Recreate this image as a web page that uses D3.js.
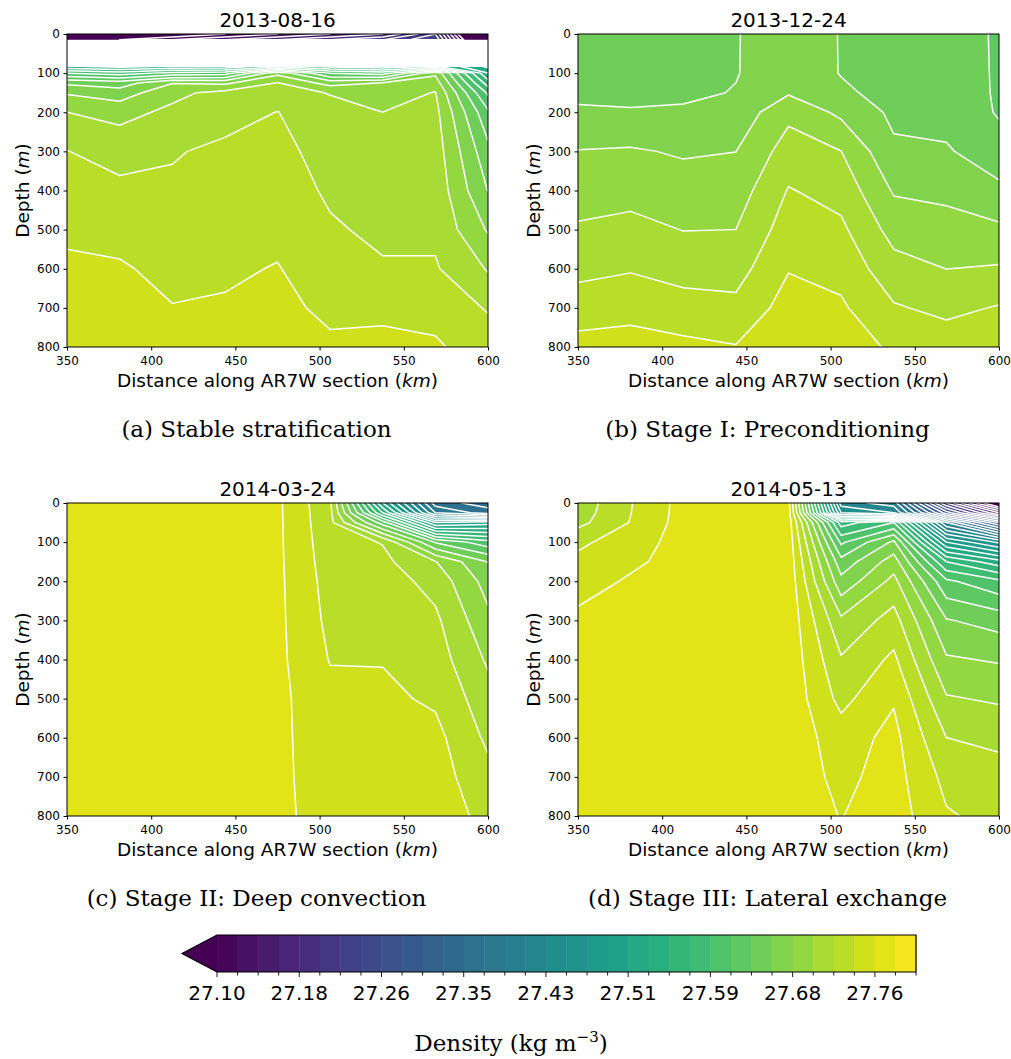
<!DOCTYPE html>
<html>
<head>
<meta charset="utf-8">
<script src="https://cdn.jsdelivr.net/npm/d3@7"></script>
<style>
  body { margin: 0; background: #fff; }
  text { font-family: "DejaVu Sans", sans-serif; fill: #000; }
  .serif { font-family: "DejaVu Serif", serif; }
</style>
</head>
<body>
<svg id="fig"></svg>
<script>
// sections along AR7W, density in kg m-3 (rows = depth, columns = station)
var stations = [350, 381.25, 412.5, 443.75, 475, 506.25, 537.5, 568.75, 600];
var distTicks = [350, 400, 450, 500, 550, 600];
var depthTicks = [0, 100, 200, 300, 400, 500, 600, 700, 800];
var dates = ["2013-08-16", "2013-12-24", "2014-03-24", "2014-05-13"];
var captions = ["(a) Stable stratification", "(b) Stage I: Preconditioning",
                "(c) Stage II: Deep convection", "(d) Stage III: Lateral exchange"];
var cbarTickLabels = ["27.10", "27.18", "27.26", "27.35", "27.43", "27.51", "27.59", "27.68", "27.76"];
var levelMin = 27.1, levelMax = 27.8, nLevels = 35;

var depthsA = [0, 15, 30, 70, 82, 100, 125, 150, 200, 300, 400, 500, 600, 700, 800];
var densityA = [
  [27.0382, 27.0588, 27.0794, 27.1000, 27.1206, 27.1412, 27.1618, 27.2235, 26.9353],
  [27.0794, 27.1000, 27.1206, 27.1412, 27.1618, 27.1824, 27.2029, 27.2441, 26.9765],
  [null, null, null, null, null, null, null, null, null],
  [null, null, null, null, null, null, null, null, null],
  [27.5324, 27.5221, 27.5324, 27.5324, 27.5632, 27.5426, 27.5324, 27.5529, 27.5056],
  [27.5941, 27.5838, 27.6003, 27.6044, 27.6703, 27.6147, 27.6044, 27.6724, 27.5324],
  [27.6518, 27.6456, 27.6754, 27.6724, 27.6981, 27.6682, 27.6775, 27.6868, 27.5632],
  [27.6744, 27.6651, 27.6919, 27.7032, 27.7053, 27.6960, 27.6868, 27.6981, 27.5900],
  [27.6971, 27.6909, 27.7012, 27.7084, 27.7181, 27.7043, 27.6971, 27.7032, 27.6188],
  [27.7181, 27.7094, 27.7156, 27.7228, 27.7238, 27.7094, 27.7053, 27.7074, 27.6415],
  [27.7228, 27.7228, 27.7218, 27.7259, 27.7279, 27.7146, 27.7094, 27.7104, 27.6553],
  [27.7341, 27.7321, 27.7269, 27.7290, 27.7331, 27.7201, 27.7135, 27.7135, 27.6744],
  [27.7424, 27.7403, 27.7331, 27.7351, 27.7393, 27.7259, 27.7197, 27.7197, 27.6954],
  [27.7506, 27.7475, 27.7389, 27.7403, 27.7444, 27.7331, 27.7331, 27.7331, 27.7156],
  [27.7568, 27.7547, 27.7444, 27.7465, 27.7506, 27.7424, 27.7444, 27.7403, 27.7300]
];

var depthsB = [0, 100, 150, 200, 300, 400, 500, 600, 700, 800];
var densityB = [
  [27.6456, 27.6456, 27.6466, 27.6549, 27.6662, 27.6551, 27.6476, 27.6435, 27.6332],
  [27.6476, 27.6476, 27.6487, 27.6549, 27.6682, 27.6551, 27.6487, 27.6446, 27.6332],
  [27.6518, 27.6507, 27.6518, 27.6569, 27.6744, 27.6590, 27.6497, 27.6456, 27.6332],
  [27.6586, 27.6575, 27.6588, 27.6633, 27.6919, 27.6719, 27.6518, 27.6476, 27.6337],
  [27.6773, 27.6787, 27.6742, 27.6763, 27.7063, 27.6973, 27.6592, 27.6584, 27.6423],
  [27.6882, 27.6905, 27.6857, 27.6868, 27.7189, 27.7102, 27.6744, 27.6715, 27.6610],
  [27.6995, 27.7028, 27.6966, 27.6971, 27.7279, 27.7218, 27.6894, 27.6843, 27.6802],
  [27.7121, 27.7160, 27.7102, 27.7094, 27.7372, 27.7316, 27.7047, 27.6969, 27.6991],
  [27.7279, 27.7316, 27.7255, 27.7230, 27.7465, 27.7413, 27.7197, 27.7127, 27.7191],
  [27.7454, 27.7465, 27.7434, 27.7393, 27.7547, 27.7485, 27.7351, 27.7286, 27.7362]
];

var depthsC = [0, 25, 50, 100, 150, 200, 300, 400, 500, 600, 700, 800];
var densityC = [
  [27.7691, 27.7691, 27.7691, 27.7691, 27.7627, 27.7218, 27.5118, 27.3574, 27.3368],
  [27.7691, 27.7691, 27.7691, 27.7691, 27.7627, 27.7228, 27.5529, 27.3882, 27.3574],
  [27.7691, 27.7691, 27.7691, 27.7691, 27.7629, 27.7238, 27.6250, 27.4912, 27.5015],
  [27.7691, 27.7691, 27.7691, 27.7691, 27.7629, 27.7259, 27.7166, 27.6332, 27.6024],
  [27.7691, 27.7691, 27.7691, 27.7691, 27.7631, 27.7279, 27.7228, 27.6981, 27.6549],
  [27.7691, 27.7691, 27.7691, 27.7691, 27.7633, 27.7300, 27.7279, 27.7104, 27.6682],
  [27.7691, 27.7691, 27.7691, 27.7691, 27.7636, 27.7331, 27.7321, 27.7218, 27.6816],
  [27.7691, 27.7691, 27.7691, 27.7691, 27.7638, 27.7372, 27.7372, 27.7279, 27.6940],
  [27.7691, 27.7691, 27.7691, 27.7691, 27.7640, 27.7444, 27.7424, 27.7351, 27.7053],
  [27.7691, 27.7691, 27.7691, 27.7691, 27.7642, 27.7454, 27.7465, 27.7444, 27.7135],
  [27.7691, 27.7691, 27.7691, 27.7691, 27.7644, 27.7465, 27.7485, 27.7475, 27.7238],
  [27.7691, 27.7691, 27.7691, 27.7691, 27.7646, 27.7485, 27.7506, 27.7496, 27.7321]
];

var depthsD = [0, 25, 50, 100, 150, 200, 300, 400, 500, 600, 700, 800];
var densityD = [
  [27.7053, 27.7372, 27.7662, 27.7691, 27.7650, 27.4191, 27.3985, 27.2029, 27.0588],
  [27.7074, 27.7378, 27.7666, 27.7691, 27.7671, 27.4500, 27.4294, 27.2750, 27.1618],
  [27.7115, 27.7393, 27.7671, 27.7701, 27.7691, 27.5632, 27.5941, 27.3882, 27.2853],
  [27.7341, 27.7485, 27.7673, 27.7712, 27.7712, 27.6106, 27.6600, 27.4912, 27.4459],
  [27.7434, 27.7557, 27.7650, 27.7712, 27.7722, 27.6425, 27.6868, 27.5735, 27.5406],
  [27.7516, 27.7609, 27.7691, 27.7712, 27.7732, 27.6621, 27.7032, 27.6188, 27.5982],
  [27.7629, 27.7671, 27.7691, 27.7712, 27.7732, 27.7012, 27.7259, 27.6573, 27.6476],
  [27.7691, 27.7691, 27.7691, 27.7712, 27.7732, 27.7197, 27.7424, 27.6789, 27.6744],
  [27.7701, 27.7701, 27.7701, 27.7712, 27.7732, 27.7321, 27.7568, 27.6991, 27.6940],
  [27.7712, 27.7712, 27.7712, 27.7712, 27.7712, 27.7485, 27.7650, 27.7177, 27.7146],
  [27.7712, 27.7712, 27.7712, 27.7712, 27.7701, 27.7537, 27.7671, 27.7321, 27.7228],
  [27.7712, 27.7712, 27.7712, 27.7712, 27.7691, 27.7582, 27.7691, 27.7403, 27.7321]
];

var width = 1011, height = 1059;
var panelW = 421, panelH = 313;
var panelPos = [[67, 34], [578, 34], [67, 503], [578, 503]];
var panels = [
  {depths: depthsA, grid: densityA},
  {depths: depthsB, grid: densityB},
  {depths: depthsC, grid: densityC},
  {depths: depthsD, grid: densityD}
];

var levels = d3.range(nLevels).map(k => levelMin + k * (levelMax - levelMin) / (nLevels - 1));
var binColor = k => d3.interpolateViridis((k + 0.5) / (nLevels - 1));
var underColor = d3.interpolateViridis(0);

var svg = d3.select("#fig")
  .attr("width", width)
  .attr("height", height);

panels.forEach(drawPanel);
drawColorbar();

function drawPanel(p, i) {
  var left = panelPos[i][0], top = panelPos[i][1];
  var x = d3.scaleLinear().domain([350, 600]).range([left, left + panelW]);
  var y = d3.scaleLinear().domain([0, 800]).range([top, top + panelH]);

  // grid padded by one cell on every side so the contour outlines fall outside the axes
  var nx = stations.length, ny = p.depths.length, W = nx + 2, H = ny + 2;
  var values = [], mask = [];
  for (var j = 0; j < H; j++) {
    var row = p.grid[Math.min(Math.max(j - 1, 0), ny - 1)];
    for (var k = 0; k < W; k++) {
      var v = row[Math.min(Math.max(k - 1, 0), nx - 1)];
      values.push(v == null ? NaN : v);
      mask.push(v == null ? NaN : 1);
    }
  }
  var gx = d3.scaleLinear().domain(stations.map((s, k) => k + 1.5)).range(stations.map(s => x(s)));
  var gy = d3.scaleLinear().domain(p.depths.map((d, k) => k + 1.5)).range(p.depths.map(d => y(d)));
  var path = d3.geoPath(d3.geoTransform({
    point: function(px, py) { this.stream.point(gx(px), gy(py)); }
  }));

  svg.append("clipPath").attr("id", "clip" + i)
    .append("rect")
      .attr("x", left).attr("y", top)
      .attr("width", panelW).attr("height", panelH);

  var g = svg.append("g").attr("clip-path", "url(#clip" + i + ")");

  var valid = d3.contours().size([W, H]).thresholds([0.5])(mask)[0];
  g.append("path").attr("d", path(valid)).attr("fill", underColor);

  var bands = d3.contours().size([W, H]).thresholds(levels)(values);
  bands.forEach((c, k) => {
    if (k < nLevels - 1 && c.coordinates.length) {
      g.append("path").attr("d", path(c)).attr("fill", binColor(k));
    }
  });
  bands.forEach(c => {
    if (c.coordinates.length) {
      g.append("path").attr("d", path(c))
        .attr("fill", "none")
        .attr("stroke", "#fff")
        .attr("stroke-width", 1.5)
        .attr("stroke-linejoin", "round");
    }
  });

  svg.append("rect")
    .attr("x", left).attr("y", top)
    .attr("width", panelW).attr("height", panelH)
    .attr("fill", "none").attr("stroke", "#000").attr("stroke-width", 1);

  var xAxis = svg.append("g")
    .attr("transform", "translate(0," + (top + panelH) + ")")
    .call(d3.axisBottom(x).tickValues(distTicks).tickSize(3.5).tickPadding(5.5).tickFormat(d3.format("d")));
  var yAxis = svg.append("g")
    .attr("transform", "translate(" + left + ",0)")
    .call(d3.axisLeft(y).tickValues(depthTicks).tickSize(3.5).tickPadding(3.5).tickFormat(d3.format("d")));
  [xAxis, yAxis].forEach(a => {
    a.select(".domain").remove();
    a.selectAll("line").attr("stroke", "#000");
    a.selectAll("text").attr("font-size", 12).attr("font-family", "DejaVu Sans").attr("fill", "#000");
  });

  svg.append("text")
    .attr("x", left + panelW / 2).attr("y", top - 7)
    .attr("text-anchor", "middle").attr("font-size", 20)
    .text(dates[i]);

  var xl = svg.append("text")
    .attr("x", left + panelW / 2).attr("y", top + panelH + 40)
    .attr("text-anchor", "middle").attr("font-size", 18.5);
  xl.append("tspan").text("Distance along AR7W section (");
  xl.append("tspan").attr("font-style", "italic").text("km");
  xl.append("tspan").text(")");

  var yl = svg.append("text")
    .attr("transform", "translate(" + (left - 38) + "," + (top + panelH / 2) + ") rotate(-90)")
    .attr("text-anchor", "middle").attr("font-size", 18.5);
  yl.append("tspan").text("Depth (");
  yl.append("tspan").attr("font-style", "italic").text("m");
  yl.append("tspan").text(")");

  svg.append("text").classed("serif", true)
    .attr("x", left + panelW / 2 - 21).attr("y", top + panelH + 90)
    .attr("text-anchor", "middle").attr("font-size", 23)
    .text(captions[i]);
}

function drawColorbar() {
  var x0 = 217, x1 = 916, top = 935, bottom = 972, tip = 182;
  var cx = d3.scaleLinear().domain([levelMin, levelMax]).range([x0, x1]);
  var cb = svg.append("g");

  cb.append("path")
    .attr("d", "M" + tip + "," + (top + bottom) / 2 + "L" + x0 + "," + top + "L" + x0 + "," + bottom + "Z")
    .attr("fill", underColor);
  cb.selectAll("rect.bin")
    .data(d3.range(nLevels - 1))
    .enter()
    .append("rect")
      .classed("bin", true)
      .attr("x", k => cx(levels[k]))
      .attr("y", top)
      .attr("width", k => cx(levels[k + 1]) - cx(levels[k]) + 0.4)
      .attr("height", bottom - top)
      .attr("fill", k => binColor(k));
  cb.append("path")
    .attr("d", "M" + tip + "," + (top + bottom) / 2 + "L" + x0 + "," + top + "L" + x1 + "," + top +
               "L" + x1 + "," + bottom + "L" + x0 + "," + bottom + "Z")
    .attr("fill", "none").attr("stroke", "#000").attr("stroke-width", 1.2);

  cb.selectAll("line.tick")
    .data(levels)
    .enter()
    .append("line")
      .attr("x1", d => cx(d)).attr("x2", d => cx(d))
      .attr("y1", bottom).attr("y2", (d, k) => bottom + (k % 4 === 0 ? 5 : 3.5))
      .attr("stroke", "#000").attr("stroke-width", 0.9);

  cb.selectAll("text.tl")
    .data(cbarTickLabels)
    .enter()
    .append("text")
      .attr("x", (d, k) => cx(levels[k * 4]))
      .attr("y", 1000)
      .attr("text-anchor", "middle")
      .attr("font-size", 20)
      .text(d => d);

  var lab = svg.append("text").classed("serif", true)
    .attr("x", 511).attr("y", 1051)
    .attr("text-anchor", "middle").attr("font-size", 23);
  lab.append("tspan").text("Density (kg m");
  lab.append("tspan").attr("dy", -9).attr("font-size", 15).text("\u22123");
  lab.append("tspan").attr("dy", 9).text(")");
}
</script>
</body>
</html>
